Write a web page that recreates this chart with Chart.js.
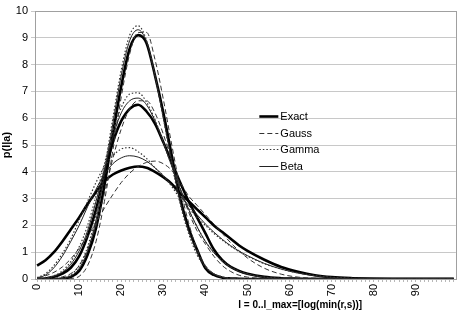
<!DOCTYPE html>
<html>
<head>
<meta charset="utf-8">
<script src="https://cdn.jsdelivr.net/npm/chart.js@4"></script>
<style>
  html, body { margin: 0; padding: 0; background: #fff; }
  #wrap { width: 469px; height: 323px; }
</style>
</head>
<body>
<div id="wrap"><canvas id="chart"></canvas></div>
<script>
const lValues = [0,2,4,6,8,10,12,14,16,18,20,22,24,26,28,30,32,34,36,38,40,42,44,46,48,50,54,58,62,66,70,75,80,90,99];

// tall distribution
const exactA = [0,0,0,0.02,0.08, 0.3,0.9,1.9,3.5,5.4, 7.2,8.6,9.1,8.8,7.6, 6.2,4.6,3.0,1.9,1.1, 0.4,0.15,0.05,0.02,0.01, 0,0,0,0,0, 0,0,0,0,0];
const gaussA = [0,0,0,0,0.02, 0.1,0.5,1.4,2.9,4.8, 6.8,8.4,9.2,9.2,8.2, 6.7,5.0,3.4,2.1,1.1, 0.5,0.2,0.07,0.02,0.01, 0,0,0,0,0, 0,0,0,0,0];
const gammaA = [0,0,0,0.03,0.15, 0.5,1.2,2.4,4.1,6.0, 7.8,9.1,9.45,8.9,7.6, 6.0,4.3,2.8,1.7,0.9, 0.45,0.2,0.08,0.03,0.01, 0,0,0,0,0, 0,0,0,0,0];
const betaA  = [0,0,0,0.02,0.1, 0.4,1.05,2.2,3.9,5.8, 7.6,8.9,9.3,8.85,7.6, 6.0,4.4,2.9,1.8,1.0, 0.45,0.18,0.06,0.02,0.01, 0,0,0,0,0, 0,0,0,0,0];

// middle distribution
const exactB = [0,0.02,0.08,0.2,0.42, 0.85,1.6,2.6,3.9,5.1, 5.9,6.35,6.5,6.25,5.8, 5.1,4.35,3.6,2.9,2.3, 1.7,1.1,0.7,0.45,0.3, 0.2,0.08,0.03,0.01,0, 0,0,0,0,0];
const gaussB = [0,0,0.02,0.08,0.2, 0.5,1.1,2.0,3.2,4.5, 5.6,6.35,6.65,6.65,6.2, 5.4,4.4,3.4,2.5,1.8, 1.3,0.85,0.5,0.28,0.14, 0.07,0.02,0,0,0, 0,0,0,0,0];
const gammaB = [0,0.03,0.12,0.3,0.65, 1.2,2.0,3.1,4.3,5.5, 6.4,6.9,6.95,6.6,5.95, 5.1,4.2,3.35,2.6,1.95, 1.4,1.0,0.68,0.45,0.3, 0.19,0.07,0.03,0.01,0, 0,0,0,0,0];
const betaB  = [0,0.02,0.1,0.25,0.55, 1.05,1.8,2.9,4.1,5.3, 6.2,6.65,6.75,6.5,5.9, 5.1,4.2,3.35,2.6,1.95, 1.4,0.98,0.66,0.44,0.28, 0.18,0.07,0.02,0.01,0, 0,0,0,0,0];

// wide distribution
const exactC = [0.5,0.7,1.0,1.4,1.85, 2.3,2.8,3.25,3.65,3.9, 4.05,4.15,4.2,4.15,4.0, 3.8,3.55,3.2,2.9,2.6, 2.3,2.0,1.75,1.5,1.25, 1.05,0.72,0.45,0.27,0.14, 0.07,0.03,0.01,0,0];
const gaussC = [0.05,0.12,0.25,0.45,0.75, 1.15,1.6,2.1,2.65,3.15, 3.6,3.95,4.2,4.35,4.4, 4.3,4.05,3.6,3.1,2.75, 2.4,2.05,1.7,1.35,1.05, 0.78,0.4,0.18,0.07,0.03, 0.01,0,0,0,0];
const gammaC = [0.05,0.2,0.5,0.95,1.5, 2.2,2.9,3.6,4.2,4.6, 4.85,4.9,4.75,4.5,4.15, 3.85,3.45,3.0,2.65,2.3, 2.0,1.7,1.45,1.22,1.02, 0.85,0.57,0.37,0.23,0.13, 0.07,0.03,0.01,0,0];
const betaC  = [0.03,0.15,0.42,0.85,1.4, 2.0,2.7,3.35,3.9,4.3, 4.52,4.6,4.55,4.4,4.15, 3.85,3.5,3.1,2.75,2.4, 2.05,1.75,1.48,1.24,1.04, 0.87,0.58,0.37,0.22,0.12, 0.06,0.02,0.01,0,0];

const xTickLabels = ['0','10','20','30','40','50','60','70','80','90'];
const legendNames = ['Exact', 'Gauss', 'Gamma', 'Beta'];

const FONT = '"Liberation Sans", Arial, sans-serif';

const styles = {
    Exact: { borderColor: '#000', borderWidth: 2.6, borderDash: [] },
    Gauss: { borderColor: '#333', borderWidth: 1, borderDash: [5, 3] },
    Gamma: { borderColor: '#333', borderWidth: 1.2, borderDash: [1.5, 2] },
    Beta:  { borderColor: '#222', borderWidth: 1, borderDash: [] }
};

function toPoints(arr) {
    return arr.map((v, i) => ({ x: lValues[i], y: v }));
}

function makeSet(name, arr) {
    return Object.assign({
        label: name,
        data: toPoints(arr),
        pointRadius: 0,
        fill: false,
        cubicInterpolationMode: 'monotone'
    }, styles[name]);
}

// draw thinner lines first, exact on top
const datasets = [
    makeSet('Gauss', gaussA), makeSet('Gamma', gammaA), makeSet('Beta', betaA),
    makeSet('Gauss', gaussB), makeSet('Gamma', gammaB), makeSet('Beta', betaB),
    makeSet('Gauss', gaussC), makeSet('Gamma', gammaC), makeSet('Beta', betaC),
    makeSet('Exact', exactA), makeSet('Exact', exactB), makeSet('Exact', exactC)
];

const framePlugin = {
    id: 'frame',
    beforeDatasetsDraw(chart) {
        const { ctx, chartArea: a } = chart;
        ctx.save();
        ctx.strokeStyle = '#a0a0a0';
        ctx.lineWidth = 1;
        ctx.strokeRect(Math.round(a.left) + 0.5, Math.round(a.top) + 0.5,
            Math.round(a.right - a.left), Math.round(a.bottom - a.top));
        ctx.restore();
    }
};

const legendPlugin = {
    id: 'boxLegend',
    afterDraw(chart) {
        const { ctx, chartArea: a } = chart;
        const x0 = a.left + (a.right - a.left) * 0.533;
        const y0 = a.top + (a.bottom - a.top) * 0.392;
        ctx.save();
        ctx.font = '11px ' + FONT;
        ctx.textBaseline = 'middle';
        ctx.fillStyle = '#000';
        legendNames.forEach((name, i) => {
            const st = styles[name];
            const y = Math.round(y0 + i * 16.5) + 0.5;
            ctx.strokeStyle = st.borderColor;
            ctx.lineWidth = st.borderWidth;
            ctx.setLineDash(st.borderDash);
            ctx.beginPath();
            ctx.moveTo(x0, y);
            ctx.lineTo(x0 + 19, y);
            ctx.stroke();
            ctx.setLineDash([]);
            ctx.fillText(name, x0 + 21, y);
        });
        ctx.restore();
    }
};

const xTitlePlugin = {
    id: 'xTitle',
    afterDraw(chart) {
        const { ctx, chartArea: a } = chart;
        ctx.save();
        ctx.font = 'bold 10px ' + FONT;
        ctx.fillStyle = '#000';
        ctx.textAlign = 'left';
        ctx.textBaseline = 'middle';
        ctx.fillText('l = 0..l_max=[log(min(r,s))]', a.left + (a.right - a.left) * 0.483, 305);
        ctx.restore();
    }
};

new Chart('chart', {
    type: 'line',
    data: { datasets: datasets },
    options: {
        responsive: true,
        maintainAspectRatio: false,
        animation: false,
        layout: { padding: { top: 11, right: 6, left: 0, bottom: 0 } },
        plugins: {
            legend: { display: false },
            tooltip: { enabled: false }
        },
        scales: {
            x: {
                type: 'linear',
                min: -0.5,
                max: 99.5,
                afterBuildTicks: (scale) => {
                    const t = [];
                    for (let i = 0; i <= 99; i++) t.push({ value: i });
                    scale.ticks = t;
                },
                afterFit: (scale) => { scale.height = 44; },
                grid: { drawOnChartArea: false, drawTicks: true, tickLength: 3, color: '#b8b8b8' },
                border: { color: '#a0a0a0' },
                ticks: {
                    autoSkip: false,
                    minRotation: 90,
                    maxRotation: 90,
                    padding: 2,
                    color: '#000',
                    font: { family: FONT, size: 11 },
                    callback: (v) => (v % 10 === 0 ? xTickLabels[v / 10] : '')
                }
            },
            y: {
                min: 0,
                max: 10,
                afterFit: (scale) => { scale.width = 35; },
                grid: { color: '#c8c8c8', tickLength: 4 },
                border: { color: '#a0a0a0' },
                ticks: {
                    stepSize: 1,
                    padding: 3,
                    color: '#000',
                    font: { family: FONT, size: 11 }
                },
                title: {
                    display: true,
                    text: 'p(l|a)',
                    color: '#000',
                    padding: 0,
                    font: { family: FONT, size: 11, weight: 'bold' }
                }
            }
        }
    },
    plugins: [framePlugin, legendPlugin, xTitlePlugin]
});
</script>
</body>
</html>
